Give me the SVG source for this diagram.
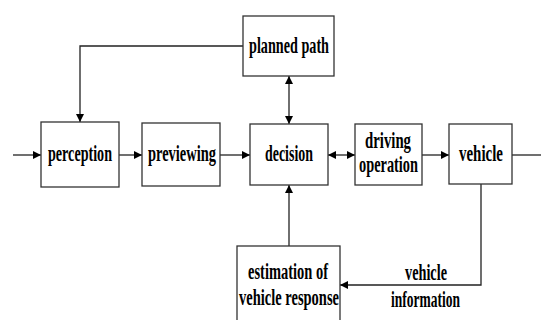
<svg xmlns="http://www.w3.org/2000/svg" width="541" height="320" viewBox="0 0 541 320">
<defs>
<marker id="ah" viewBox="0 0 10 10" refX="10" refY="5" markerWidth="8" markerHeight="8" markerUnits="userSpaceOnUse" orient="auto-start-reverse">
<path d="M0,0 L10,5 L0,10 z" fill="#000"/>
</marker>
<style>
.box{fill:#fff;stroke:#333;stroke-width:1.3}
.t{font-family:"Liberation Serif","Times New Roman",serif;font-weight:bold;font-size:23px;fill:#000;text-anchor:middle}
.c{fill:none;stroke:#222;stroke-width:1.3}
</style>
</defs>
<rect width="541" height="320" fill="#fff"/>
<g id="connectors">
<line class="c" x1="13" y1="155" x2="41" y2="155" marker-end="url(#ah)"/>
<line class="c" x1="119" y1="155" x2="142" y2="155" marker-end="url(#ah)"/>
<line class="c" x1="220" y1="155" x2="250" y2="155" marker-end="url(#ah)"/>
<line class="c" x1="328" y1="155" x2="355" y2="155" marker-start="url(#ah)" marker-end="url(#ah)"/>
<line class="c" x1="422" y1="155" x2="449" y2="155" marker-end="url(#ah)"/>
<line class="c" x1="512" y1="155" x2="541" y2="155"/>
<polyline class="c" points="243,46 80,46 80,122" marker-end="url(#ah)"/>
<line class="c" x1="289" y1="76" x2="289" y2="124" marker-start="url(#ah)" marker-end="url(#ah)"/>
<line class="c" x1="289" y1="246" x2="289" y2="185" marker-end="url(#ah)"/>
<polyline class="c" points="481,184 481,285 340,285" marker-end="url(#ah)"/>
<text class="t" x="426" y="280" textLength="42" lengthAdjust="spacingAndGlyphs">vehicle</text>
<text class="t" x="425.5" y="307" textLength="69" lengthAdjust="spacingAndGlyphs">information</text>
</g>
<g id="planned-path">
<rect class="box" x="243" y="16" width="91" height="60"/>
<text class="t" x="289" y="53" textLength="80" lengthAdjust="spacingAndGlyphs">planned path</text>
</g>
<g id="perception">
<rect class="box" x="41" y="122" width="78" height="65"/>
<text class="t" x="80" y="161" textLength="64" lengthAdjust="spacingAndGlyphs">perception</text>
</g>
<g id="previewing">
<rect class="box" x="142" y="123" width="78" height="63"/>
<text class="t" x="182" y="161" textLength="68" lengthAdjust="spacingAndGlyphs">previewing</text>
</g>
<g id="decision">
<rect class="box" x="250" y="124" width="78" height="61"/>
<text class="t" x="289" y="161" textLength="48" lengthAdjust="spacingAndGlyphs">decision</text>
</g>
<g id="driving-operation">
<rect class="box" x="355" y="124" width="67" height="61"/>
<text class="t" x="388" y="148" textLength="46" lengthAdjust="spacingAndGlyphs">driving</text>
<text class="t" x="388.5" y="172" textLength="59" lengthAdjust="spacingAndGlyphs">operation</text>
</g>
<g id="vehicle">
<rect class="box" x="449" y="124" width="63" height="60"/>
<text class="t" x="481" y="161" textLength="44" lengthAdjust="spacingAndGlyphs">vehicle</text>
</g>
<g id="estimation">
<rect class="box" x="237" y="246" width="103" height="80"/>
<text class="t" x="288" y="279" textLength="80" lengthAdjust="spacingAndGlyphs">estimation of</text>
<text class="t" x="289" y="305" textLength="100" lengthAdjust="spacingAndGlyphs">vehicle response</text>
</g>
</svg>
